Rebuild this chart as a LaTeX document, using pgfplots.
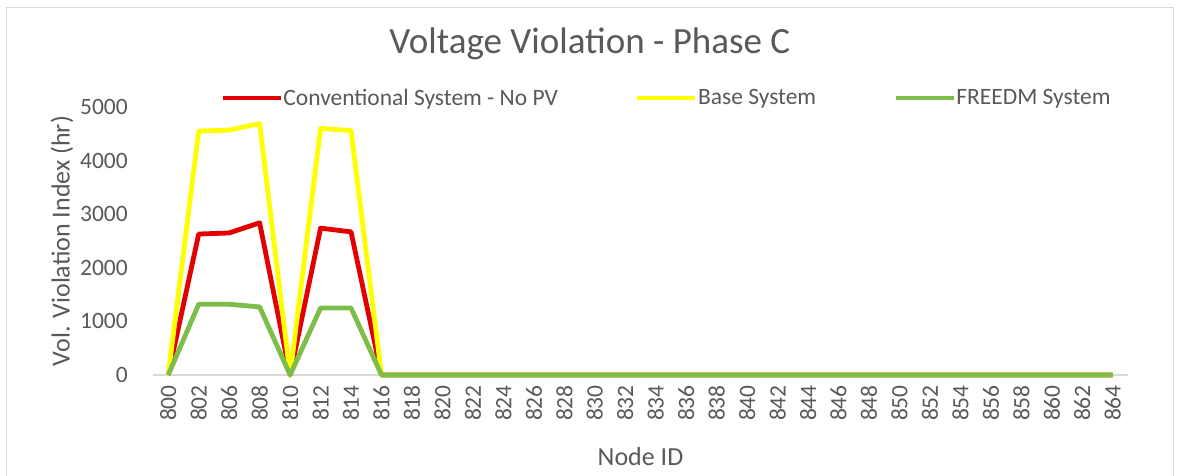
\documentclass[border=0pt]{standalone}
\usepackage{pgfplots}
\pgfplotsset{compat=1.18}
\usepackage{fontspec}
\setmainfont{Carlito}
\definecolor{txt}{HTML}{595959}
\definecolor{cred}{HTML}{E30000}
\definecolor{cyel}{HTML}{FFFF00}
\definecolor{cgrn}{HTML}{7DBE4B}
\definecolor{axl}{HTML}{D9D9D9}
\definecolor{brd}{HTML}{D9D9D9}
\begin{document}
\begin{tikzpicture}
\begin{scope}[x=0.75pt,y=0.75pt]
\path[use as bounding box] (-153,-100) rectangle (1029,375);
\fill[white] (-153,-100) rectangle (1029,375);
\draw[brd, line width=0.75pt] (-146,-101) -- (-146,367) -- (1020,367) -- (1020,-101);
\end{scope}
\begin{axis}[
  at={(0pt,0pt)}, anchor=south west,
  scale only axis, width=731.25pt, height=201pt,
  xmin=-0.5, xmax=31.5, ymin=0, ymax=5000,
  clip=false,
  axis x line=bottom, axis y line=left,
  x axis line style={-, axl, line width=0.9pt},
  y axis line style={draw=none},
  major tick length=0pt,
  ytick={0,1000,2000,3000,4000,5000},
  xtick={0,...,31},
  xticklabels={800,802,806,808,810,812,814,816,818,820,822,824,826,828,830,832,834,836,838,840,842,844,846,848,850,852,854,856,858,860,862,864},
  /pgf/number format/1000 sep={},
  /pgf/number format/assume math mode=true,
  tick label style={font=\fontsize{17.6}{20}\selectfont, text=txt},
  xticklabel style={yshift=-7.5pt, rotate=90, anchor=east, inner sep=0pt},
  yticklabel style={anchor=east, inner sep=0pt, xshift=-18.75pt},
  ylabel={Vol. Violation Index (hr)},
  ylabel style={at={(axis description cs:-0.0933,0.5)}, anchor=center, rotate=0, font=\fontsize{19.5}{22}\selectfont, text=txt},
  xlabel={Node ID},
  xlabel style={at={(axis description cs:0.5,-0.306)}, anchor=center, font=\fontsize{19.5}{22}\selectfont, text=txt},
  title={Voltage Violation - Phase C},
  title style={at={(axis description cs:0.448,1.205)}, anchor=center, font=\fontsize{27.75}{30}\selectfont, text=txt},
  legend columns=3,
  legend style={at={(axis description cs:0.0687,1.0336)}, anchor=west, draw=none, fill=none, inner sep=0pt,
    font=\fontsize{17.6}{20}\selectfont, text=txt,
    /tikz/every even column/.append style={column sep=57.5pt},
    nodes={inner xsep=0.3pt}},
  legend image code/.code={\draw[#1] (0pt,0pt) -- (43.5pt,0pt);},
  every axis plot/.append style={line width=3.6pt, line join=round, mark=none},
]
\addplot[cred] coordinates {(0,0) (1,2630) (2,2650) (3,2840) (4,0) (5,2740) (6,2670) (7,0) (8,0) (9,0) (10,0) (11,0) (12,0) (13,0) (14,0) (15,0) (16,0) (17,0) (18,0) (19,0) (20,0) (21,0) (22,0) (23,0) (24,0) (25,0) (26,0) (27,0) (28,0) (29,0) (30,0) (31,0)};
\addlegendentry{Conventional System - No PV}
\addplot[cyel] coordinates {(0,0) (1,4550) (2,4570) (3,4690) (4,0) (5,4600) (6,4560) (7,0) (8,0) (9,0) (10,0) (11,0) (12,0) (13,0) (14,0) (15,0) (16,0) (17,0) (18,0) (19,0) (20,0) (21,0) (22,0) (23,0) (24,0) (25,0) (26,0) (27,0) (28,0) (29,0) (30,0) (31,0)};
\addlegendentry{Base System}
\addplot[cgrn] coordinates {(0,0) (1,1320) (2,1320) (3,1270) (4,0) (5,1250) (6,1250) (7,0) (8,0) (9,0) (10,0) (11,0) (12,0) (13,0) (14,0) (15,0) (16,0) (17,0) (18,0) (19,0) (20,0) (21,0) (22,0) (23,0) (24,0) (25,0) (26,0) (27,0) (28,0) (29,0) (30,0) (31,0)};
\addlegendentry{FREEDM System}
\end{axis}
\end{tikzpicture}
\end{document}
